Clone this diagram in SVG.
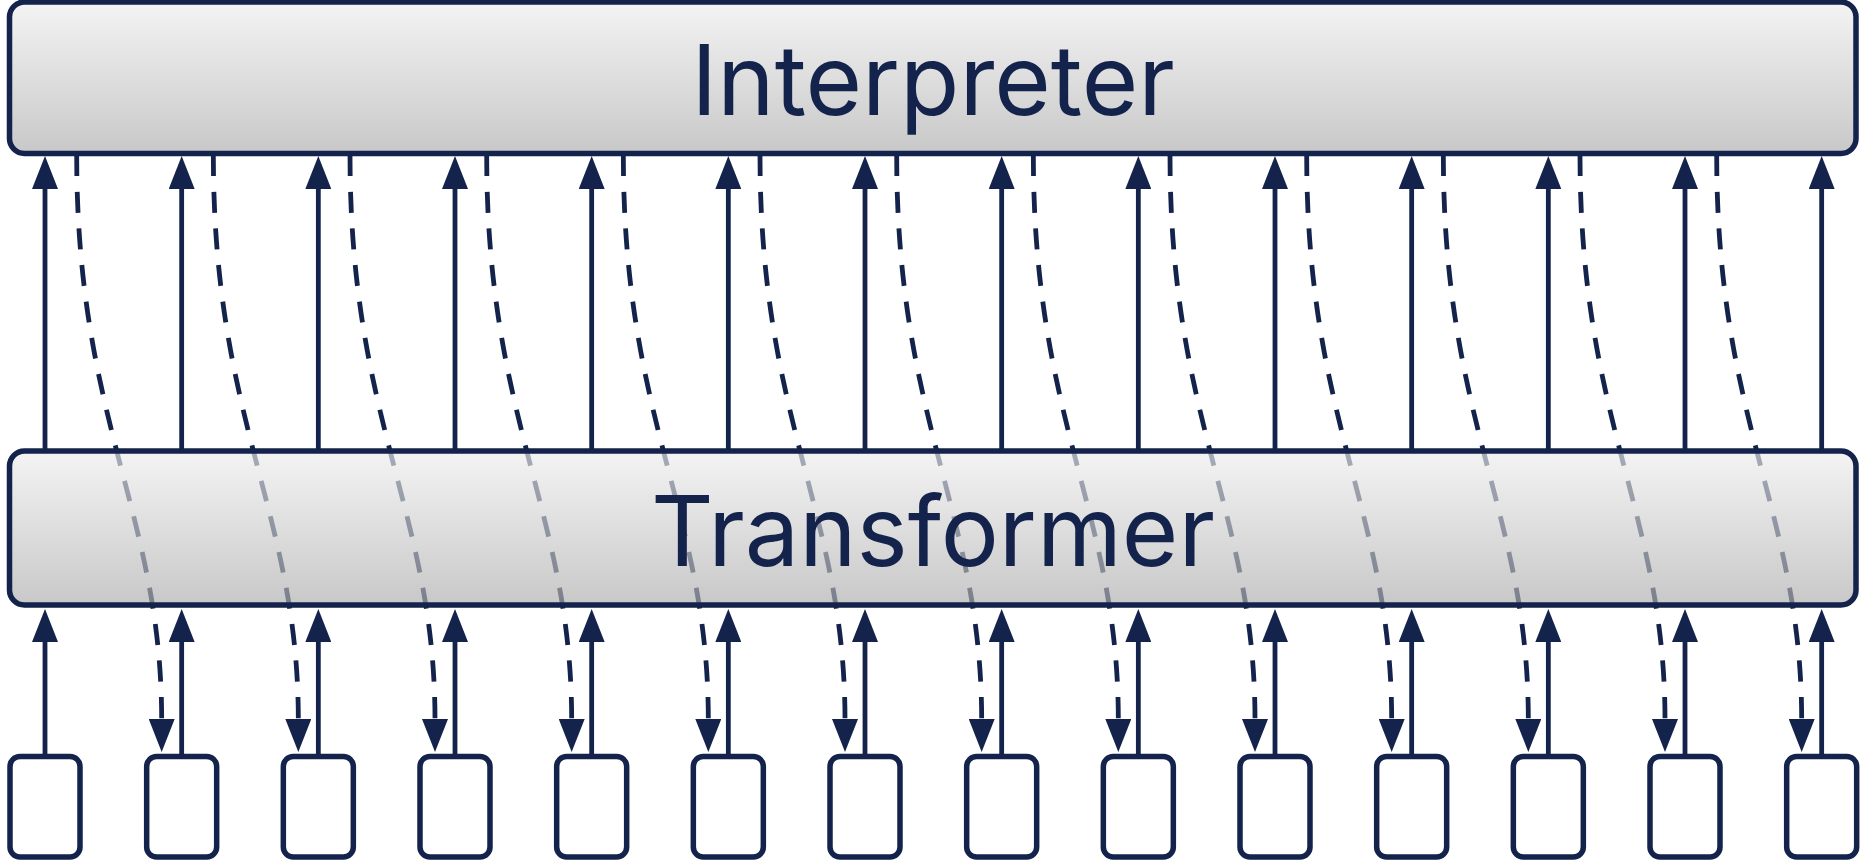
<svg xmlns="http://www.w3.org/2000/svg" width="1860" height="865" viewBox="0 0 1860 865">
<style>
.big{stroke:#14234b;stroke-width:5.5;fill:url(#g)}
.small{stroke:#14234b;stroke-width:5.5;fill:#fff}
.lbl{font-family:Inter,"Noto Sans","Liberation Sans",sans-serif;font-size:97px;fill:#14234b;text-anchor:middle}
.up{stroke:#14234b;stroke-width:4.8;fill:none;marker-end:url(#ah)}
.dash{stroke:#14234b;stroke-width:4.8;fill:none;stroke-dasharray:21 15.7;marker-end:url(#ah)}
</style>
<defs>
<linearGradient id="g" x1="0" y1="0" x2="0" y2="1">
<stop offset="0" stop-color="#eeeeee" stop-opacity="0.67"/>
<stop offset="1" stop-color="#adadad" stop-opacity="0.67"/>
</linearGradient>
<marker id="ah" viewBox="0 0 33 26" refX="1" refY="13" markerWidth="33" markerHeight="26" markerUnits="userSpaceOnUse" orient="auto">
<path d="M0,0 L33,13 L0,26 z" fill="#14234b"/>
</marker>
</defs>
<g id="connectors">
<path class="dash" d="M76.67,155 c0,269 85,357 85,565"/>
<path class="dash" d="M213.33,155 c0,269 85,357 85,565"/>
<path class="dash" d="M350,155 c0,269 85,357 85,565"/>
<path class="dash" d="M486.67,155 c0,269 85,357 85,565"/>
<path class="dash" d="M623.33,155 c0,269 85,357 85,565"/>
<path class="dash" d="M760,155 c0,269 85,357 85,565"/>
<path class="dash" d="M896.67,155 c0,269 85,357 85,565"/>
<path class="dash" d="M1033.33,155 c0,269 85,357 85,565"/>
<path class="dash" d="M1170,155 c0,269 85,357 85,565"/>
<path class="dash" d="M1306.67,155 c0,269 85,357 85,565"/>
<path class="dash" d="M1443.33,155 c0,269 85,357 85,565"/>
<path class="dash" d="M1580,155 c0,269 85,357 85,565"/>
<path class="dash" d="M1716.67,155 c0,269 85,357 85,565"/>
<path class="up" d="M45,449 V188"/>
<path class="up" d="M181.67,449 V188"/>
<path class="up" d="M318.33,449 V188"/>
<path class="up" d="M455,449 V188"/>
<path class="up" d="M591.67,449 V188"/>
<path class="up" d="M728.33,449 V188"/>
<path class="up" d="M865,449 V188"/>
<path class="up" d="M1001.67,449 V188"/>
<path class="up" d="M1138.33,449 V188"/>
<path class="up" d="M1275,449 V188"/>
<path class="up" d="M1411.67,449 V188"/>
<path class="up" d="M1548.33,449 V188"/>
<path class="up" d="M1685,449 V188"/>
<path class="up" d="M1821.67,449 V188"/>
<path class="up" d="M45,754 V641"/>
<path class="up" d="M181.67,754 V641"/>
<path class="up" d="M318.33,754 V641"/>
<path class="up" d="M455,754 V641"/>
<path class="up" d="M591.67,754 V641"/>
<path class="up" d="M728.33,754 V641"/>
<path class="up" d="M865,754 V641"/>
<path class="up" d="M1001.67,754 V641"/>
<path class="up" d="M1138.33,754 V641"/>
<path class="up" d="M1275,754 V641"/>
<path class="up" d="M1411.67,754 V641"/>
<path class="up" d="M1548.33,754 V641"/>
<path class="up" d="M1685,754 V641"/>
<path class="up" d="M1821.67,754 V641"/>
</g>
<g id="interpreter">
<rect class="big" x="9.5" y="2" width="1846.5" height="151.5" rx="15"/>
<text class="lbl" x="933" y="115">Interpreter</text>
</g>
<g id="transformer">
<rect class="big" x="9.5" y="451" width="1846.5" height="154" rx="15"/>
<text class="lbl" x="933" y="566">Transformer</text>
</g>
<g id="token0"><rect class="small" x="10" y="756.5" width="70" height="100.5" rx="10"/></g>
<g id="token1"><rect class="small" x="146.67" y="756.5" width="70" height="100.5" rx="10"/></g>
<g id="token2"><rect class="small" x="283.33" y="756.5" width="70" height="100.5" rx="10"/></g>
<g id="token3"><rect class="small" x="420" y="756.5" width="70" height="100.5" rx="10"/></g>
<g id="token4"><rect class="small" x="556.67" y="756.5" width="70" height="100.5" rx="10"/></g>
<g id="token5"><rect class="small" x="693.33" y="756.5" width="70" height="100.5" rx="10"/></g>
<g id="token6"><rect class="small" x="830" y="756.5" width="70" height="100.5" rx="10"/></g>
<g id="token7"><rect class="small" x="966.67" y="756.5" width="70" height="100.5" rx="10"/></g>
<g id="token8"><rect class="small" x="1103.33" y="756.5" width="70" height="100.5" rx="10"/></g>
<g id="token9"><rect class="small" x="1240" y="756.5" width="70" height="100.5" rx="10"/></g>
<g id="token10"><rect class="small" x="1376.67" y="756.5" width="70" height="100.5" rx="10"/></g>
<g id="token11"><rect class="small" x="1513.33" y="756.5" width="70" height="100.5" rx="10"/></g>
<g id="token12"><rect class="small" x="1650" y="756.5" width="70" height="100.5" rx="10"/></g>
<g id="token13"><rect class="small" x="1786.67" y="756.5" width="70" height="100.5" rx="10"/></g>
</svg>
